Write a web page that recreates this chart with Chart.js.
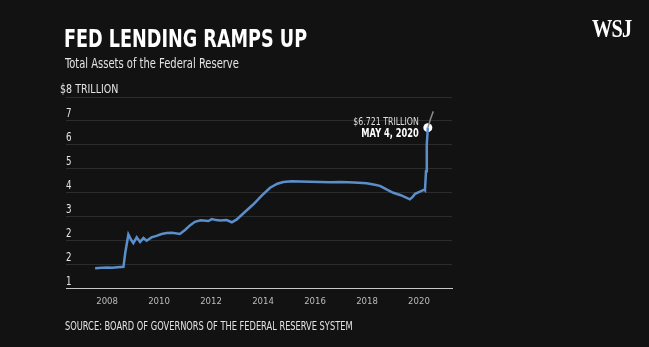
<!DOCTYPE html>
<html>
<head>
<meta charset="utf-8">
<script src="https://cdn.jsdelivr.net/npm/chart.js@4.4.1/dist/chart.umd.min.js"></script>
<style>
  html, body { margin: 0; padding: 0; background: #121212; }
  body { width: 649px; height: 347px; position: relative; overflow: hidden; font-family: "DejaVu Sans Condensed", sans-serif; }
  #wrap { position: absolute; left: 0; top: 0; width: 649px; height: 347px; }
  .txt { position: absolute; white-space: nowrap; transform-origin: left top; }
  .title { left: 64px; top: 25px; color: #fff; font-weight: bold; font-size: 24px; transform: scaleX(0.816); }
  .sub { left: 65px; top: 55px; color: #e4e4e4; font-size: 13.5px; transform: scaleX(0.82); }
  .source { left: 65px; top: 319px; color: #e4e4e4; font-size: 11.5px; transform: scaleX(0.8); }
  .logo { left: 592px; top: 14px; color: #fff; font-family: "Liberation Serif", "DejaVu Serif", serif; font-weight: bold; font-size: 26px; letter-spacing: -1px; transform: scaleX(0.78); }
</style>
</head>
<body>
<div id="wrap"><canvas id="fedChart" width="649" height="347"></canvas></div>
<div class="txt title">FED LENDING RAMPS UP</div>
<div class="txt sub">Total Assets of the Federal Reserve</div>
<div class="txt source">SOURCE: BOARD OF GOVERNORS OF THE FEDERAL RESERVE SYSTEM</div>
<div class="txt logo">WSJ</div>
<script>
// dates as decimal years, values in trillions of dollars
const years = [2007.54, 2007.8, 2008.0, 2008.2, 2008.4, 2008.63, 2008.7, 2008.82, 2008.92, 2009.01, 2009.14, 2009.27, 2009.4, 2009.52, 2009.71, 2009.9, 2010.1, 2010.29, 2010.5, 2010.8, 2011.0, 2011.2, 2011.38, 2011.6, 2011.9, 2012.03, 2012.2, 2012.35, 2012.6, 2012.8, 2012.99, 2013.3, 2013.63, 2013.95, 2014.27, 2014.55, 2014.78, 2015.1, 2015.42, 2015.8, 2016.2, 2016.58, 2017.0, 2017.5, 2017.98, 2018.25, 2018.5, 2018.75, 2019.01, 2019.3, 2019.65, 2019.75, 2019.85, 2020.04, 2020.2, 2020.23, 2020.27, 2020.3, 2020.34];
const assets = [0.85, 0.87, 0.88, 0.87, 0.89, 0.91, 1.5, 2.26, 2.05, 1.9, 2.14, 1.95, 2.11, 2.0, 2.14, 2.2, 2.28, 2.32, 2.33, 2.28, 2.45, 2.65, 2.79, 2.85, 2.82, 2.9, 2.86, 2.84, 2.86, 2.77, 2.89, 3.2, 3.52, 3.88, 4.21, 4.38, 4.45, 4.48, 4.47, 4.46, 4.45, 4.44, 4.45, 4.43, 4.4, 4.35, 4.29, 4.14, 4.0, 3.9, 3.73, 3.82, 3.96, 4.05, 4.13, 4.1, 4.9, 6.0, 6.721];
// later weeks shown in grey
const laterYears = [2020.34, 2020.45, 2020.55];
const laterAssets = [6.721, 7.1, 7.4];
const yearTicks = [2008, 2010, 2012, 2014, 2016, 2018, 2020];
const yTickLabels = ["1", "2", "2", "3", "4", "5", "6", "7", "$8 TRILLION"];

const FONT = '"DejaVu Sans Condensed", sans-serif';
const toPoints = (xs, ys) => xs.map((x, i) => ({ x: x, y: ys[i] }));

// draws text squeezed horizontally, to look like the narrow WSJ face
function narrowText(c, text, x, y, sx, align) {
  c.save();
  c.translate(x, y);
  c.scale(sx, 1);
  c.textAlign = align;
  c.fillText(text, 0, 0);
  c.restore();
}

const labelsPlugin = {
  id: "labels",
  afterDraw(chart) {
    const c = chart.ctx;
    const ys = chart.scales.y;
    const left = chart.chartArea.left;
    c.save();
    c.textBaseline = "middle";
    // y tick labels sit above their gridlines; the top one hangs out to the left
    c.fillStyle = "#e4e4e4";
    c.font = "11.5px " + FONT;
    ys.ticks.forEach((t, i) => {
      const top = i === ys.ticks.length - 1;
      narrowText(c, yTickLabels[t.value], top ? left - 6 : left, ys.getPixelForValue(t.value) - 7, top ? 0.92 : 0.84, "left");
    });
    // callout for the latest value
    const px = chart.scales.x.getPixelForValue(2020.34);
    const py = ys.getPixelForValue(6.721);
    c.fillStyle = "#ddd";
    c.font = "10.5px " + FONT;
    narrowText(c, "$6.721 TRILLION", px - 9, py - 5, 0.83, "right");
    c.fillStyle = "#fff";
    c.font = "bold 11.5px " + FONT;
    narrowText(c, "MAY 4, 2020", px - 9, py + 6, 0.8, "right");
    c.restore();
  }
};

const ctx = document.getElementById("fedChart").getContext("2d");
new Chart(ctx, {
  type: "line",
  data: {
    datasets: [
      {
        data: toPoints(laterYears, laterAssets),
        borderColor: "#8a8a8a",
        borderWidth: 1.5,
        pointRadius: 0,
        tension: 0
      },
      {
        data: toPoints(years, assets),
        borderColor: "#5b8fcb",
        borderWidth: 2.5,
        pointRadius: 0,
        tension: 0
      },
      {
        data: [{ x: 2020.34, y: 6.721 }],
        pointRadius: 4.5,
        pointBackgroundColor: "#fff",
        pointBorderWidth: 0,
        showLine: false
      }
    ]
  },
  options: {
    responsive: false,
    animation: false,
    layout: { padding: { left: 66, right: 197, top: 97, bottom: 33 } },
    plugins: { legend: { display: false }, tooltip: { enabled: false } },
    scales: {
      x: {
        type: "linear",
        min: 2006.42,
        max: 2021.27,
        afterBuildTicks: (axis) => { axis.ticks = yearTicks.map(v => ({ value: v })); },
        grid: { display: false, drawTicks: false },
        border: { display: true, color: "#c8c8c8", width: 1 },
        ticks: {
          color: "#bbb",
          padding: 7,
          font: { family: FONT, size: 9.5 },
          callback: (v) => String(v),
          maxRotation: 0
        }
      },
      y: {
        min: 0,
        max: 8,
        afterBuildTicks: (axis) => { axis.ticks = yTickLabels.map((_, i) => ({ value: i })); },
        grid: { color: "#2c2c2c", lineWidth: 1, drawTicks: false },
        border: { display: false },
        ticks: { display: false }
      }
    }
  },
  plugins: [labelsPlugin]
});
</script>
</body>
</html>
